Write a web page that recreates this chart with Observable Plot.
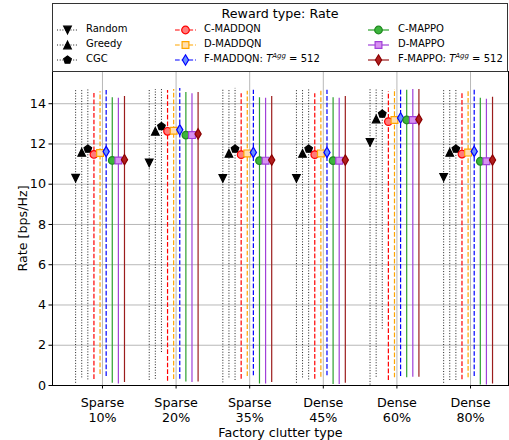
<!DOCTYPE html>
<html><head><meta charset="utf-8">
<script src="https://cdn.jsdelivr.net/npm/d3@7"></script>
<script src="https://cdn.jsdelivr.net/npm/@observablehq/plot@0.6"></script>
<style>
body{margin:0;background:#fff;font-family:"DejaVu Sans",sans-serif;}
#wrap{position:relative;width:509px;height:440px;overflow:hidden;background:#fff;}
#chart{position:absolute;left:0;top:71px;}
#legend{position:absolute;left:52px;top:3px;width:456px;height:69px;box-sizing:border-box;border:1px solid #333;background:#fff;}
.ttl{position:absolute;left:0;width:100%;text-align:center;font-size:12.7px;line-height:15px;top:2px;color:#000;}
.lab{position:absolute;font-size:10px;line-height:12px;white-space:nowrap;color:#000;}
.lab sup{font-size:7px;vertical-align:4px;line-height:0;}
.hdl{position:absolute;}
</style></head>
<body><div id="wrap"><div id="chart"></div><div id="legend"></div></div>
<script>
// ---------- data ----------
const categories = ["Sparse\n10%", "Sparse\n20%", "Sparse\n35%", "Dense\n45%", "Dense\n60%", "Dense\n80%"];
const seriesNames = ["Random", "Greedy", "CGC", "C-MADDQN", "D-MADDQN", "F-MADDQN", "C-MAPPO", "D-MAPPO", "F-MAPPO"];
const yTicks = [0, 2, 4, 6, 8, 10, 12, 14];
const xTitle = "Factory clutter type";
const yTitle = "Rate [bps/Hz]";
const legendTitle = "Reward type: Rate";

const randomMean = [10.30, 11.06, 10.29, 10.29, 12.08, 10.34];
const randomLow  = [0.11, 0.25, 0.13, 0.11, 0.02, 0.11];
const randomHigh = [14.70, 14.70, 14.70, 14.70, 14.70, 14.70];

const greedyMean = [11.58, 12.63, 11.53, 11.53, 13.24, 11.58];
const greedyLow  = [0.38, 0.31, 0.38, 0.38, 0.41, 0.25];
const greedyHigh = [14.65, 14.70, 14.65, 14.65, 14.73, 14.70];

const cgcMean = [11.75, 12.87, 11.75, 11.75, 13.49, 11.75];
const cgcLow  = [0.28, 1.64, 0.25, 0.28, 2.80, 0.25];
const cgcHigh = [14.73, 14.73, 14.76, 14.76, 14.73, 14.73];

const cMaddqnMean = [11.48, 12.63, 11.47, 11.47, 13.11, 11.50];
const cMaddqnLow  = [0.30, 0.21, 0.31, 0.31, 0.25, 0.28];
const cMaddqnHigh = [14.51, 14.65, 14.50, 14.50, 14.60, 14.50];

const dMaddqnMean = [11.55, 12.66, 11.53, 11.53, 13.19, 11.57];
const dMaddqnLow  = [0.55, 0.30, 0.45, 0.41, 0.38, 0.38];
const dMaddqnHigh = [14.60, 14.70, 14.62, 14.62, 14.70, 14.62];

const fMaddqnMean = [11.62, 12.70, 11.58, 11.58, 13.29, 11.63];
const fMaddqnLow  = [0.45, 0.31, 0.48, 0.48, 0.45, 0.45];
const fMaddqnHigh = [14.65, 14.76, 14.67, 14.67, 14.73, 14.67];

const cMappoMean = [11.18, 12.44, 11.17, 11.17, 13.19, 11.14];
const cMappoLow  = [0.11, 0.18, 0.08, 0.05, 0.38, 0.02];
const cMappoHigh = [14.30, 14.56, 14.30, 14.30, 14.67, 14.27];

const dMappoMean = [11.18, 12.44, 11.17, 11.17, 13.19, 11.14];
const dMappoLow  = [0.08, 0.15, 0.08, 0.05, 0.41, 0.02];
const dMappoHigh = [14.27, 14.50, 14.27, 14.27, 14.70, 14.22];

const fMappoMean = [11.22, 12.50, 11.20, 11.20, 13.22, 11.20];
const fMappoLow  = [0.15, 0.18, 0.15, 0.11, 0.41, 0.08];
const fMappoHigh = [14.36, 14.56, 14.36, 14.36, 14.70, 14.32];

// ---------- styles ----------
const pent = d3.range(5).map(k => { const a = -Math.PI / 2 + k * 2 * Math.PI / 5; return [4.0 * Math.cos(a), 4.0 * Math.sin(a)]; });
const geom = {
  triDown: [[0, 3.8], [-3.8, -3.8], [3.8, -3.8]],
  triUp: [[0, -3.8], [-3.8, 3.8], [3.8, 3.8]],
  pentagon: pent,
  square: [[-3.4, -3.4], [3.4, -3.4], [3.4, 3.4], [-3.4, 3.4]],
  diamond: [[0, -5.2], [3.1, 0], [0, 5.2], [-3.1, 0]],
  circle: null
};
const CR = 3.8;
function symbolOf(name) {
  return {draw(ctx) {
    const g = geom[name];
    if (!g) { ctx.moveTo(CR, 0); ctx.arc(0, 0, CR, 0, 2 * Math.PI); return; }
    ctx.moveTo(g[0][0], g[0][1]);
    for (let k = 1; k < g.length; k++) ctx.lineTo(g[k][0], g[k][1]);
    ctx.closePath();
  }};
}
const DOT = "1,1.7", DASH = "4.7,2";
const styles = [
  {mean: randomMean, low: randomLow, high: randomHigh, line: "#222", lw: 1, dash: DOT, sym: "triDown", fill: "#000", edge: "#000"},
  {mean: greedyMean, low: greedyLow, high: greedyHigh, line: "#222", lw: 1, dash: DOT, sym: "triUp", fill: "#000", edge: "#000"},
  {mean: cgcMean, low: cgcLow, high: cgcHigh, line: "#222", lw: 1, dash: DOT, sym: "pentagon", fill: "#000", edge: "#000"},
  {mean: cMaddqnMean, low: cMaddqnLow, high: cMaddqnHigh, line: "#ff0000", lw: 1.2, dash: DASH, sym: "circle", fill: "#ff7b7b", edge: "#ff0000"},
  {mean: dMaddqnMean, low: dMaddqnLow, high: dMaddqnHigh, line: "#ffa500", lw: 1.2, dash: DASH, sym: "square", fill: "#ffdfb0", edge: "#ffa500"},
  {mean: fMaddqnMean, low: fMaddqnLow, high: fMaddqnHigh, line: "#0000ff", lw: 1.2, dash: DASH, sym: "diamond", fill: "#6b90ff", edge: "#0000ff"},
  {mean: cMappoMean, low: cMappoLow, high: cMappoHigh, line: "#2ca02c", lw: 1.2, dash: null, sym: "circle", fill: "#3cb43c", edge: "#208a20"},
  {mean: dMappoMean, low: dMappoLow, high: dMappoHigh, line: "#a040d8", lw: 1.2, dash: null, sym: "square", fill: "#d890f2", edge: "#a040d8"},
  {mean: fMappoMean, low: fMappoLow, high: fMappoHigh, line: "#9b1c1c", lw: 1.2, dash: null, sym: "diamond", fill: "#b01e1e", edge: "#8b0000"}
];
const offset = k => -0.365 + 0.083 * k;
const catIdx = categories.map((c, i) => i);

const seriesMarks = [];
styles.forEach((s, k) => {
  const data = catIdx.map(i => ({i, mean: s.mean[i], low: s.low[i], high: s.high[i]}));
  const xa = d => d.i + offset(k);
  seriesMarks.push(Plot.ruleX(data, {x: xa, y1: "low", y2: "high", stroke: s.line, strokeWidth: s.lw, strokeDasharray: s.dash || undefined}));
  seriesMarks.push(Plot.dot(data, {x: xa, y: "mean", symbol: symbolOf(s.sym), r: 4, fill: s.fill, stroke: s.edge, strokeWidth: 1.2}));
});

const chart = Plot.plot({
  width: 509, height: 369,
  marginLeft: 52, marginRight: 1, marginTop: 0, marginBottom: 55,
  x: {domain: [-0.679, 5.516]},
  y: {domain: [0, 15.6]},
  style: {fontFamily: "DejaVu Sans", fontSize: "12.7px", color: "#000", background: "#fff", overflow: "visible"},
  marks: [
    Plot.gridY(yTicks, {stroke: "#b0b0b0", strokeOpacity: 1, strokeWidth: 0.9}),
    Plot.gridX(catIdx, {stroke: "#b0b0b0", strokeOpacity: 1, strokeWidth: 0.9}),
    ...seriesMarks,
    Plot.frame({stroke: "#000", strokeWidth: 1}),
    Plot.axisY(yTicks, {tickSize: 3.5, tickPadding: 3, label: null, fontSize: 12.7}),
    Plot.axisX(catIdx, {tickSize: 3.5, tickFormat: () => "", label: null}),
    Plot.text(catIdx, {x: d => d, text: d => categories[d], frameAnchor: "bottom", dy: 24, lineAnchor: "middle", textAnchor: "middle", lineHeight: 1.2, fontSize: 12.7}),
    Plot.text([xTitle], {text: d => d, frameAnchor: "bottom", dy: 47.5, lineAnchor: "middle", textAnchor: "middle", fontSize: 12.7}),
    Plot.text([yTitle], {text: d => d, frameAnchor: "left", dx: -30, rotate: -90, lineAnchor: "middle", textAnchor: "middle", fontSize: 12.7})
  ]
});
document.getElementById("chart").appendChild(chart);

// ---------- legend ----------
const legend = document.getElementById("legend");
const t = document.createElement("div"); t.className = "ttl"; t.textContent = legendTitle; legend.appendChild(t);
const colHandle = [4, 122, 315], colLabel = [33, 151, 345], rowY = [25, 40, 55];
function shapeSvg(s) {
  const g = geom[s.sym];
  if (!g) return `<circle cx="0" cy="0" r="${CR}" fill="${s.fill}" stroke="${s.edge}" stroke-width="1.2"/>`;
  return `<path d="M${g.map(p => p.join(",")).join("L")}Z" fill="${s.fill}" stroke="${s.edge}" stroke-width="1.2"/>`;
}
styles.forEach((s, k) => {
  const col = Math.floor(k / 3), row = k % 3;
  const h = document.createElement("div"); h.className = "hdl";
  h.style.left = colHandle[col] + "px"; h.style.top = (rowY[row] - 7) + "px";
  h.innerHTML = `<svg width="22" height="14"><line x1="0" x2="21" y1="7" y2="7" stroke="${s.line}" stroke-width="${s.lw}" ${s.dash ? `stroke-dasharray="${s.dash}"` : ""}/><g transform="translate(10.5,7)">${shapeSvg(s)}</g></svg>`;
  legend.appendChild(h);
  const l = document.createElement("div"); l.className = "lab";
  l.style.left = colLabel[col] + "px"; l.style.top = (rowY[row] - 6) + "px";
  if (k === 5 || k === 8) l.innerHTML = `${seriesNames[k]}: <i>T</i><sup><i>Agg</i></sup> = 512`;
  else l.textContent = seriesNames[k];
  legend.appendChild(l);
});
</script>
</body></html>
